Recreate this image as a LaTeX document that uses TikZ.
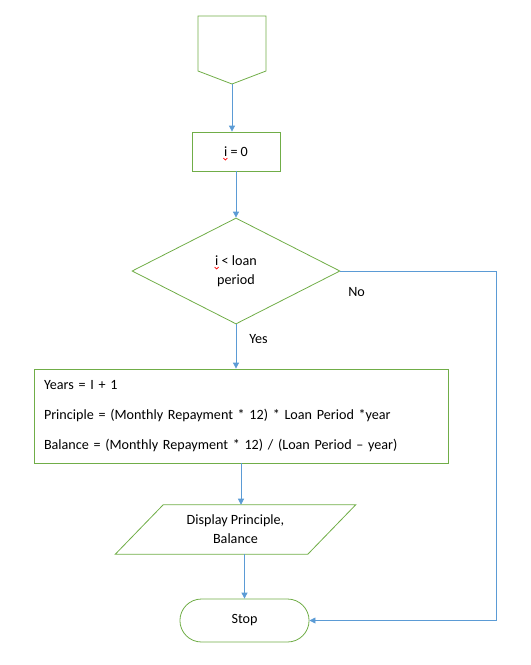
\documentclass[tikz,border=0pt]{standalone}
\usepackage{fontspec}
\setmainfont{Carlito}
\usetikzlibrary{arrows.meta,shapes.geometric,shapes.misc,calc}
\definecolor{boxgreen}{RGB}{112,173,71}
\definecolor{flowblue}{RGB}{91,155,213}
\tikzset{
  shapeline/.style={draw=boxgreen, line width=0.6pt},
  flow/.style={draw=flowblue, line width=0.6pt, -{Triangle[length=4.5pt,width=4.5pt]}},
  twoline/.style={align=center, font=\fontsize{10.6}{14.25}\selectfont},
}
\newcommand\spellmark[1]{\rlap{\tikz[overlay,baseline=0pt]\draw[red,line width=0.5pt](-0.5pt,-1.3pt)--(1pt,-2.8pt)--(2.5pt,-1.3pt);}#1}

\begin{document}
\begin{tikzpicture}[x=0.75pt,y=-0.75pt,font=\fontsize{10.6}{12}\selectfont]
  \useasboundingbox (0,0) rectangle (531,665);
  \draw [shapeline] (198,16)--(266,16)--(266,71)--(232,84)--(198,71)--cycle;
  \coordinate (start) at (232,84);
  \node [shapeline, minimum width=66pt, minimum height=29.25pt] (init) at (236,151.5) {\spellmark{i} = 0};
  \node [shapeline, diamond, inner sep=0pt, minimum width=156pt, minimum height=79.5pt, twoline] (test) at (236,271) {\spellmark{i} < loan\\period};
  \node [shapeline, minimum height=70.5pt, text width=295.5pt, inner xsep=7.5pt, inner ysep=0pt, align=left, font=\fontsize{10.6}{22.5}\selectfont] (calc) at (241,416)
    {Years = I + 1\\Principle = (Monthly Repayment * 12) * Loan Period *year\\Balance = (Monthly Repayment * 12) / (Loan Period – year)};
  \node [minimum width=144pt, minimum height=36.75pt, twoline] (show) at (235.5,529.5) {Display Principle,\\Balance};
  \draw [shapeline] ($(show.north west)+(18pt,0)$)--($(show.north east)+(18pt,0)$)--($(show.south east)+(-18pt,0)$)--($(show.south west)+(-18pt,0)$)--cycle;
  \node [shapeline, rounded rectangle, minimum width=103.5pt, minimum height=32.25pt] (stop) at (244.5,620.5) {Stop};
  \coordinate (nocorner) at (496,271);
  \draw [flow] (start)--(start |- init.north);
  \draw [flow] (init.south)--(test.north);
  \draw [flow] (test.south)--(test.south |- calc.north);
  \draw [flow] (calc.south)--(calc.south |- show.north);
  \draw [flow] (stop.north |- show.south)--(stop.north);
  \draw [flow] (test.east)--(nocorner) |- (stop.east);
  \node [anchor=west, inner sep=0pt] (nolabel) at (348,292) {No};
  \node [anchor=west, inner sep=0pt] (yeslabel) at (249,339) {Yes};
\end{tikzpicture}
\end{document}
